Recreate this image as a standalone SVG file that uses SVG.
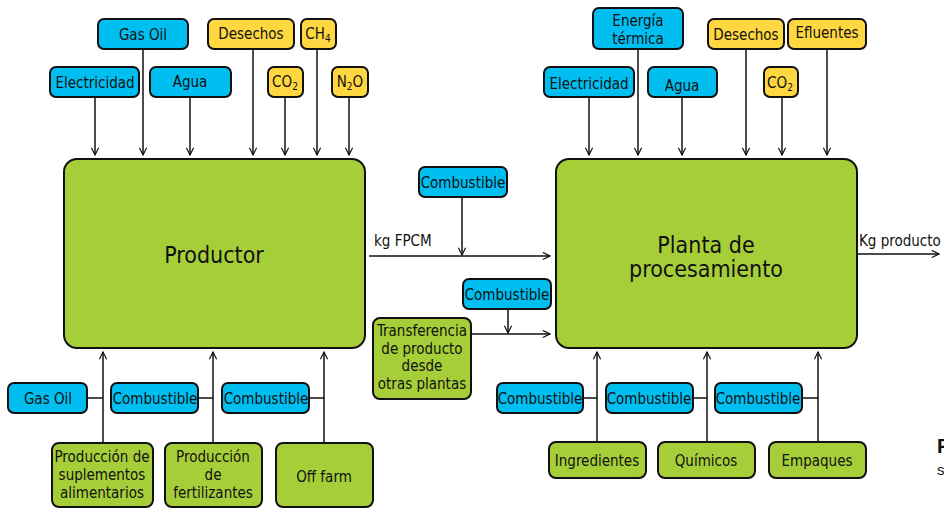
<svg xmlns="http://www.w3.org/2000/svg" width="944" height="509" viewBox="0 0 944 509">
<style>
text{font-family:"Liberation Sans Narrow","DejaVu Sans Condensed","Liberation Sans",sans-serif;fill:#111;text-anchor:middle}
.s{font-size:15px}
.big{font-size:23px}
.lab{font-size:15px;text-anchor:start}
.b{fill:#00BEF0;stroke:#111;stroke-width:2}
.y{fill:#FFD740;stroke:#111;stroke-width:2}
.g{fill:#A6CE39;stroke:#111;stroke-width:2}
.c line,.c path{stroke:#111;stroke-width:1.5;fill:none}
.sub{font-size:10px}
</style>
<defs>
<marker id="a" viewBox="0 0 10 10" refX="9" refY="5" markerWidth="9" markerHeight="9" markerUnits="userSpaceOnUse" orient="auto">
<path d="M1,1 L9,5 L1,9" fill="none" stroke="#111" stroke-width="1.3"/>
</marker>
</defs>
<g class="c" id="connectors">
<line x1="95" y1="97" x2="95" y2="155" marker-end="url(#a)"/>
<line x1="143" y1="49" x2="143" y2="155" marker-end="url(#a)"/>
<line x1="190" y1="97" x2="190" y2="155" marker-end="url(#a)"/>
<line x1="253" y1="49" x2="253" y2="155" marker-end="url(#a)"/>
<line x1="285" y1="97" x2="285" y2="155" marker-end="url(#a)"/>
<line x1="317" y1="49" x2="317" y2="155" marker-end="url(#a)"/>
<line x1="349" y1="97" x2="349" y2="155" marker-end="url(#a)"/>
<line x1="589" y1="97" x2="589" y2="155" marker-end="url(#a)"/>
<line x1="638" y1="49" x2="638" y2="155" marker-end="url(#a)"/>
<line x1="682" y1="97" x2="682" y2="155" marker-end="url(#a)"/>
<line x1="746" y1="49" x2="746" y2="155" marker-end="url(#a)"/>
<line x1="782" y1="97" x2="782" y2="155" marker-end="url(#a)"/>
<line x1="827" y1="49" x2="827" y2="155" marker-end="url(#a)"/>
<line x1="369" y1="256" x2="550" y2="256" marker-end="url(#a)"/>
<line x1="462" y1="197" x2="462" y2="255" marker-end="url(#a)"/>
<line x1="471" y1="334" x2="550" y2="334" marker-end="url(#a)"/>
<line x1="508" y1="309" x2="508" y2="333" marker-end="url(#a)"/>
<line x1="857" y1="254" x2="939" y2="254" marker-end="url(#a)"/>
<line x1="103" y1="443" x2="103" y2="352" marker-end="url(#a)"/>
<line x1="213" y1="443" x2="213" y2="352" marker-end="url(#a)"/>
<line x1="324" y1="443" x2="324" y2="352" marker-end="url(#a)"/>
<line x1="87" y1="398" x2="103" y2="398"/>
<line x1="198" y1="398" x2="213" y2="398"/>
<line x1="309" y1="398" x2="324" y2="398"/>
<line x1="597" y1="442" x2="597" y2="352" marker-end="url(#a)"/>
<line x1="707" y1="442" x2="707" y2="352" marker-end="url(#a)"/>
<line x1="818" y1="442" x2="818" y2="352" marker-end="url(#a)"/>
<line x1="583" y1="398" x2="597" y2="398"/>
<line x1="693" y1="398" x2="707" y2="398"/>
<line x1="802" y1="398" x2="818" y2="398"/>
</g>
<text class="lab" x="374" y="246">kg FPCM</text>
<text class="lab" x="859" y="246">Kg producto</text>
<g id="productor"><rect class="g" x="64" y="159" width="301" height="189" rx="13"/><text class="big" x="214" y="263">Productor</text></g>
<g id="planta"><rect class="g" x="556" y="159" width="301" height="189" rx="13"/><text class="big" x="706" y="253">Planta de</text><text class="big" x="706" y="277">procesamiento</text></g>
<g id="gasoil1"><rect class="b" x="98" y="19" width="90" height="30" rx="6"/><text class="s" x="143" y="40">Gas Oil</text></g>
<g id="desechos1"><rect class="y" x="208" y="19" width="86" height="30" rx="6"/><text class="s" x="251" y="39">Desechos</text></g>
<g id="ch4"><rect class="y" x="301" y="19" width="35" height="30" rx="6"/><text class="s" x="318" y="39">CH<tspan class="sub" dy="3">4</tspan></text></g>
<g id="elec1"><rect class="b" x="50" y="67" width="89" height="30" rx="6"/><text class="s" x="95" y="88">Electricidad</text></g>
<g id="agua1"><rect class="b" x="150" y="67" width="81" height="30" rx="6"/><text class="s" x="190" y="87">Agua</text></g>
<g id="co2a"><rect class="y" x="268" y="67" width="35" height="30" rx="6"/><text class="s" x="285" y="87">CO<tspan class="sub" dy="3">2</tspan></text></g>
<g id="n2o"><rect class="y" x="332" y="67" width="36" height="30" rx="6"/><text class="s" x="350" y="87">N<tspan class="sub" dy="3">2</tspan><tspan dy="-3">O</tspan></text></g>
<g id="energia"><rect class="b" x="593" y="8" width="90" height="41" rx="6"/><text class="s" x="638" y="26">Energía</text><text class="s" x="638" y="44">térmica</text></g>
<g id="desechos2"><rect class="y" x="708" y="19" width="76" height="30" rx="6"/><text class="s" x="746" y="40">Desechos</text></g>
<g id="efluentes"><rect class="y" x="788" y="19" width="78" height="30" rx="6"/><text class="s" x="827" y="38">Efluentes</text></g>
<g id="elec2"><rect class="b" x="544" y="67" width="90" height="30" rx="6"/><text class="s" x="589" y="89">Electricidad</text></g>
<g id="agua2"><rect class="b" x="648" y="67" width="69" height="30" rx="6"/><text class="s" x="682" y="91">Agua</text></g>
<g id="co2b"><rect class="y" x="764" y="67" width="34" height="30" rx="6"/><text class="s" x="780" y="88">CO<tspan class="sub" dy="3">2</tspan></text></g>
<g id="comb_mid1"><rect class="b" x="419" y="167" width="88" height="30" rx="6"/><text class="s" x="463" y="188">Combustible</text></g>
<g id="comb_mid2"><rect class="b" x="463" y="279" width="88" height="30" rx="6"/><text class="s" x="507" y="300">Combustible</text></g>
<g id="transfer"><rect class="g" x="373" y="318" width="98" height="81" rx="7"/><text class="s" x="422" y="336">Transferencia</text><text class="s" x="422" y="354">de producto</text><text class="s" x="422" y="371">desde</text><text class="s" x="422" y="389">otras plantas</text></g>
<g id="gasoil2"><rect class="b" x="8" y="383" width="79" height="30" rx="6"/><text class="s" x="48" y="404">Gas Oil</text></g>
<g id="comb1"><rect class="b" x="111" y="383" width="87" height="30" rx="6"/><text class="s" x="155" y="404">Combustible</text></g>
<g id="comb2"><rect class="b" x="222" y="383" width="87" height="30" rx="6"/><text class="s" x="266" y="404">Combustible</text></g>
<g id="suplementos"><rect class="g" x="52" y="443" width="101" height="64" rx="7"/><text class="s" x="102" y="462">Producción de</text><text class="s" x="102" y="480">suplementos</text><text class="s" x="102" y="498">alimentarios</text></g>
<g id="fertilizantes"><rect class="g" x="165" y="443" width="97" height="64" rx="7"/><text class="s" x="213" y="462">Producción</text><text class="s" x="213" y="480">de</text><text class="s" x="213" y="498">fertilizantes</text></g>
<g id="offfarm"><rect class="g" x="276" y="443" width="97" height="64" rx="7"/><text class="s" x="324" y="482">Off farm</text></g>
<g id="comb3"><rect class="b" x="497" y="383" width="86" height="30" rx="6"/><text class="s" x="540" y="404">Combustible</text></g>
<g id="comb4"><rect class="b" x="606" y="383" width="87" height="30" rx="6"/><text class="s" x="649" y="404">Combustible</text></g>
<g id="comb5"><rect class="b" x="715" y="383" width="87" height="30" rx="6"/><text class="s" x="758" y="404">Combustible</text></g>
<g id="ingredientes"><rect class="g" x="549" y="442" width="97" height="36" rx="7"/><text class="s" x="597" y="466">Ingredientes</text></g>
<g id="quimicos"><rect class="g" x="658" y="442" width="97" height="36" rx="7"/><text class="s" x="706" y="466">Químicos</text></g>
<g id="empaques"><rect class="g" x="769" y="442" width="97" height="36" rx="7"/><text class="s" x="817" y="466">Empaques</text></g>
<text x="937" y="453" style="font-size:20px;font-weight:bold;text-anchor:start;font-family:'Liberation Sans',sans-serif">F</text>
<text x="937" y="475" style="font-size:15px;text-anchor:start;font-family:'Liberation Sans',sans-serif">s</text>
</svg>
